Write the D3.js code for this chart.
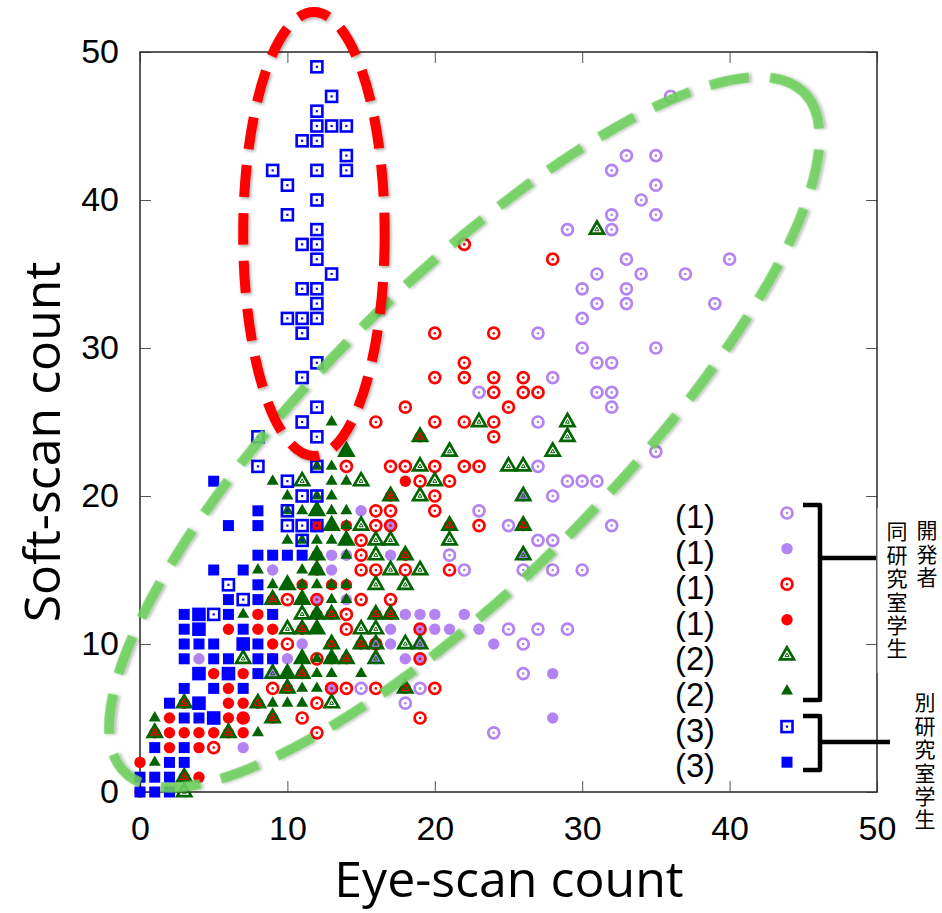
<!DOCTYPE html>
<html>
<head>
<meta charset="utf-8">
<script src="https://cdn.jsdelivr.net/npm/d3@7"></script>
<style>
  body { margin: 0; background: #fff; }
</style>
</head>
<body>
<div id="chart"></div>
<script>
// (1) 開発者 - open / filled purple circles
const devOpen = [[36,47],[33,43],[35,43],[32,42],[35,41],[34,40],[32,39],[35,39],[29,38],[32,38],[33,36],[40,36],[31,35],[34,35],[37,35],[30,34],[33,34],[31,33],[33,33],[39,33],[30,32],[27,31],[30,30],[35,30],[31,29],[32,29],[28,28],[23,27],[31,27],[32,27],[32,26],[27,25],[35,23],[27,22],[29,21],[30,21],[31,21],[28,20],[23,19],[25,18],[32,18],[27,17],[28,17],[21,16],[22,15],[26,15],[28,15],[30,15],[25,11],[27,11],[29,11],[26,10],[26,8],[15,7],[19,7],[18,6],[24,4]];
const devFilled = [[4,9],[7,3],[10,9],[9,15],[13,16],[13,15],[15,19],[17,16],[18,12],[19,12],[20,12],[17,11],[20,11],[11,10],[17,10],[18,9],[22,12],[21,11],[23,11],[24,10],[28,8],[28,5],[12,13],[14,13],[14,16],[17,18],[19,11],[16,10],[16,9],[19,9],[13,7],[19,10],[26,20],[26,16],[9,8]];
// (1) 同研究室学生 - red circles
const labOpen = [[5,3],[9,7],[10,10],[10,13],[12,4],[11,5],[12,6],[12,9],[12,13],[14,7],[13,7],[16,7],[20,7],[19,5],[19,9],[19,11],[16,10],[14,11],[14,12],[14,22],[15,13],[17,13],[15,15],[16,15],[18,15],[15,16],[15,17],[16,18],[17,18],[16,19],[17,19],[20,19],[20,20],[19,21],[21,21],[17,22],[18,22],[20,22],[22,22],[23,22],[23,18],[21,15],[16,25],[20,25],[22,25],[24,25],[24,24],[18,26],[25,26],[24,27],[26,27],[27,27],[20,28],[22,28],[24,28],[26,28],[22,29],[20,31],[24,31],[22,37],[28,36],[7,5]];
const labFilled = [[0,0],[0,2],[2,3],[2,4],[2,5],[3,4],[4,4],[5,4],[4,3],[4,1],[6,4],[7,4],[6,5],[7,5],[6,6],[7,6],[5,8],[7,8],[6,7],[6,11],[8,11],[9,11],[8,12],[9,10],[7,10],[9,9],[1,4],[3,6],[8,6],[9,5],[3,1],[9,13],[10,7],[11,11],[11,8],[13,9],[14,9],[13,10],[13,12],[16,12],[17,12],[11,14],[13,14],[14,14],[14,18],[18,21],[12,18],[12,15],[12,16],[18,16],[17,20],[19,24],[18,7],[21,18],[26,18],[15,10],[12,12]];
// (2) green triangles
const lab2Open = [[3,0],[3,1],[1,4],[3,6],[6,4],[8,6],[9,5],[7,9],[10,7],[10,11],[11,11],[11,12],[13,12],[13,10],[14,9],[13,6],[11,8],[9,13],[9,8],[15,10],[15,11],[16,11],[16,12],[17,12],[16,9],[16,10],[18,10],[19,10],[19,15],[18,14],[16,14],[17,15],[16,16],[16,17],[17,17],[15,18],[15,21],[11,21],[17,20],[18,16],[19,22],[19,20],[20,21],[21,23],[23,25],[19,24],[25,22],[26,22],[29,25],[29,24],[28,23],[31,38],[26,20],[26,18],[26,16],[21,18],[21,17],[18,7],[10,14],[14,17],[12,19],[14,23],[12,16],[12,15],[12,11],[12,12],[11,9],[13,9],[10,8],[13,18],[11,13]];
const lab2Filled = [[1,5],[1,2],[7,12],[8,4],[9,6],[10,6],[11,6],[11,7],[12,7],[9,14],[10,14],[12,14],[8,15],[11,15],[12,17],[13,17],[14,17],[12,19],[13,19],[14,19],[11,19],[10,20],[13,20],[13,21],[14,21],[9,21],[13,22],[14,23],[13,25],[12,16],[12,15],[12,11],[12,12],[11,9],[13,9],[10,8],[12,8],[13,8],[15,8],[13,18],[11,13],[13,13],[14,18],[11,14],[13,14],[14,14],[12,22],[12,20],[10,19],[11,17],[10,17],[14,13],[14,16],[12,9]];
// (3) 別研究室学生 - blue squares
const otherOpen = [[12,49],[13,47],[12,46],[12,45],[13,45],[14,45],[11,44],[12,44],[14,43],[9,42],[12,42],[14,42],[10,41],[12,40],[10,39],[12,38],[11,37],[12,37],[12,36],[13,35],[11,34],[12,34],[12,33],[10,32],[11,32],[12,32],[11,31],[12,29],[11,28],[12,26],[11,25],[12,24],[8,24],[8,22],[12,22],[10,21],[11,20],[12,20],[10,19],[10,18],[11,18],[12,18],[11,17],[6,14],[7,13],[5,12],[4,12],[4,11],[5,5],[4,6],[4,8],[6,8],[7,10]];
const otherFilled = [[0,0],[1,0],[2,0],[0,1],[1,1],[2,1],[2,2],[3,2],[1,3],[3,3],[3,5],[4,5],[5,5],[2,6],[4,6],[3,7],[5,7],[7,7],[4,8],[6,8],[8,8],[3,9],[5,9],[6,9],[8,9],[9,9],[3,10],[4,10],[5,10],[7,10],[8,10],[3,11],[4,11],[7,11],[3,12],[4,12],[6,12],[9,12],[6,13],[8,13],[8,14],[5,15],[7,15],[8,16],[9,16],[10,16],[11,16],[6,18],[8,18],[8,19],[5,21]];

const tickValues = [0, 10, 20, 30, 40, 50];
const legendLabels = ["(1)", "(1)", "(1)", "(1)", "(2)", "(2)", "(3)", "(3)"];
const groupDev = "開発者";
const groupLab = "同研究室学生";
const groupOther = "別研究室学生";

// highlighted regions, in data units: [cx, cy, rx, ry, angle]
const redRegion = [11.8, 37.7, 4.8, 15.0, 0];
const greenRegion = [22.0, 24.3, 32.6, 9.9, -45];

const width = 942, height = 913;
const x = d3.scaleLinear().domain([0, 50]).range([140, 877]);
const y = d3.scaleLinear().domain([0, 50]).range([792, 52]);

const PURPLE = "#b383f2", RED = "#ff0000", GREEN = "#006400", BLUE = "#0000ff";

const svg = d3.select("#chart").append("svg")
  .attr("width", width).attr("height", height)
  .attr("viewBox", [0, 0, width, height]);

const defs = svg.append("defs");
defs.append("filter").attr("id", "shadow")
  .attr("x", "-10%").attr("y", "-10%").attr("width", "120%").attr("height", "120%")
  .append("feDropShadow")
  .attr("dx", 1.5).attr("dy", 2).attr("stdDeviation", 1.5)
  .attr("flood-color", "#000").attr("flood-opacity", 0.3);

function tri(s) {
  const h = s * Math.sqrt(3) / 2;
  return `M0,${-h * 2 / 3}L${s / 2},${h / 3}L${-s / 2},${h / 3}Z`;
}

function marker(sel, kind, color) {
  if (kind === "circleOpen") {
    sel.append("circle").attr("r", 5.5).attr("fill", "none").attr("stroke", color).attr("stroke-width", 2.7);
    sel.append("circle").attr("r", 1.3).attr("fill", color);
  } else if (kind === "circle") {
    sel.append("circle").attr("r", 5.7).attr("fill", color);
  } else if (kind === "triOpen") {
    sel.append("path").attr("d", tri(14)).attr("fill", "none").attr("stroke", color)
      .attr("stroke-width", 2.7).attr("stroke-linejoin", "miter");
    sel.append("path").attr("d", tri(4)).attr("fill", "none").attr("stroke", color).attr("stroke-width", 1);
  } else if (kind === "tri") {
    sel.append("path").attr("d", tri(12)).attr("fill", color);
  } else if (kind === "squareOpen") {
    sel.append("rect").attr("x", -5.5).attr("y", -5.5).attr("width", 11).attr("height", 11)
      .attr("fill", "none").attr("stroke", color).attr("stroke-width", 2.6);
    sel.append("rect").attr("x", -1.1).attr("y", -1.1).attr("width", 2.2).attr("height", 2.2).attr("fill", color);
  } else if (kind === "square") {
    sel.append("rect").attr("x", -5.5).attr("y", -5.5).attr("width", 11).attr("height", 11).attr("fill", color);
  }
}

const series = [
  { data: devOpen, kind: "circleOpen", color: PURPLE },
  { data: devFilled, kind: "circle", color: PURPLE },
  { data: labOpen, kind: "circleOpen", color: RED },
  { data: labFilled, kind: "circle", color: RED },
  { data: lab2Open, kind: "triOpen", color: GREEN },
  { data: lab2Filled, kind: "tri", color: GREEN },
  { data: otherOpen, kind: "squareOpen", color: BLUE },
  { data: otherFilled, kind: "square", color: BLUE }
];

// axes (ticks on all four sides, pointing inward)
const tickFont = "'Liberation Sans', Arial, Helvetica, sans-serif";

svg.append("g")
  .attr("transform", `translate(${x(0)},0)`)
  .call(d3.axisLeft(y).tickValues(tickValues).tickSize(-11).tickPadding(21))
  .call(g => g.select(".domain").remove())
  .call(g => g.selectAll(".tick line").attr("stroke", "#555"))
  .call(g => g.selectAll(".tick text").attr("font-size", 34).attr("font-family", tickFont).attr("fill", "#000"));

svg.append("g")
  .attr("transform", `translate(0,${y(0)})`)
  .call(d3.axisBottom(x).tickValues(tickValues).tickSize(-11).tickPadding(24))
  .call(g => g.select(".domain").remove())
  .call(g => g.selectAll(".tick line").attr("stroke", "#555"))
  .call(g => g.selectAll(".tick text").attr("font-size", 34).attr("font-family", tickFont).attr("fill", "#000"));

svg.append("g")
  .attr("transform", `translate(0,${y(50)})`)
  .call(d3.axisTop(x).tickValues(tickValues).tickSize(-11).tickFormat(""))
  .call(g => g.select(".domain").remove())
  .call(g => g.selectAll(".tick line").attr("stroke", "#555"));

svg.append("g")
  .attr("transform", `translate(${x(50)},0)`)
  .call(d3.axisRight(y).tickValues(tickValues).tickSize(-11).tickFormat(""))
  .call(g => g.select(".domain").remove())
  .call(g => g.selectAll(".tick line").attr("stroke", "#555"));

svg.append("rect")
  .attr("x", x(0)).attr("y", y(50))
  .attr("width", x(50) - x(0)).attr("height", y(0) - y(50))
  .attr("fill", "none").attr("stroke", "#333").attr("stroke-width", 1.6);

// scatter points
series.forEach(s => {
  svg.append("g")
    .selectAll("g")
    .data(s.data)
    .join("g")
    .attr("transform", d => `translate(${x(d[0])},${y(d[1])})`)
    .call(sel => marker(sel, s.kind, s.color));
});

// dashed regions
function region(r, color, dash, width, opacity) {
  const [cx, cy, rx, ry, a] = r;
  svg.append("ellipse")
    .attr("cx", x(cx)).attr("cy", y(cy))
    .attr("rx", x(rx) - x(0)).attr("ry", y(0) - y(ry))
    .attr("transform", `rotate(${a},${x(cx)},${y(cy)})`)
    .attr("fill", "none")
    .attr("stroke", color)
    .attr("stroke-opacity", opacity)
    .attr("stroke-width", width)
    .attr("stroke-dasharray", dash)
    .attr("filter", "url(#shadow)");
}
region(greenRegion, "#6ccf5c", "40,21", 10, 0.88);
region(redRegion, "#ff0000", "32,16", 10, 1);

// axis titles
const titleFont = "'Open Sans', 'Noto Sans', sans-serif";
svg.append("text")
  .attr("x", 509).attr("y", 897)
  .attr("text-anchor", "middle")
  .attr("font-family", titleFont).attr("font-size", 50)
  .text("Eye-scan count");

svg.append("text")
  .attr("transform", "translate(60,442) rotate(-90)")
  .attr("text-anchor", "middle")
  .attr("font-family", titleFont).attr("font-size", 50)
  .text("Soft-scan count");

// white gap behind the vertical group label
svg.append("rect").attr("x", 877.5).attr("y", 508).attr("width", 40).attr("height", 165).attr("fill", "#fff");

// legend
const legY = d3.scaleLinear().domain([0, 1]).range([513, 548.6]);
const leg = svg.append("g");
legendLabels.forEach((lab, i) => {
  leg.append("text")
    .attr("x", 695).attr("y", legY(i) + 3)
    .attr("text-anchor", "middle")
    .attr("dominant-baseline", "central")
    .attr("font-family", tickFont).attr("font-size", 34)
    .attr("textLength", 40).attr("lengthAdjust", "spacingAndGlyphs")
    .text(lab);
  leg.append("g")
    .attr("transform", `translate(787,${legY(i)})`)
    .call(sel => marker(sel, series[i].kind, series[i].color));
});

// brackets
function bracket(y0, y1, ys, xEnd) {
  leg.append("path")
    .attr("d", `M803,${y0}H820V${y1}H803M820,${ys}H${xEnd}`)
    .attr("fill", "none").attr("stroke", "#000").attr("stroke-width", 4.5)
    .attr("stroke-linejoin", "round");
}
bracket(505, 700, 558, 876);
bracket(716, 770, 742, 890);

// vertical Japanese group labels
function vertical(str, cx, top) {
  leg.append("text")
    .attr("x", cx).attr("y", top)
    .attr("writing-mode", "vertical-rl")
    .attr("style", "writing-mode: vertical-rl; text-orientation: upright;")
    .attr("letter-spacing", 2.4)
    .attr("font-family", "'Noto Sans CJK JP', sans-serif")
    .attr("font-size", 21)
    .text(str);
}
vertical(groupDev, 927, 520);
vertical(groupLab, 897, 521);
vertical(groupOther, 925, 692);
</script>
</body>
</html>
